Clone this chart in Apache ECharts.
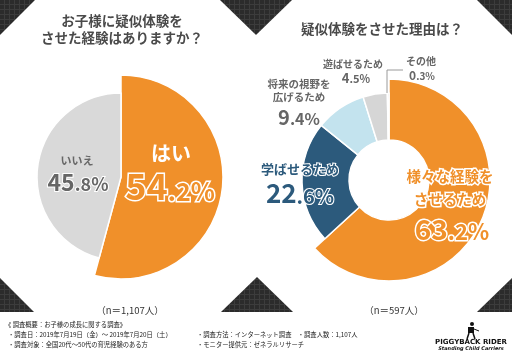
<!DOCTYPE html>
<html><head><meta charset="utf-8">
<script src="https://cdn.jsdelivr.net/npm/echarts@6/dist/echarts.min.js"></script>
<style>html,body{margin:0;padding:0;background:#fff}#c{width:512px;height:354px}</style>
</head><body><div id="c"></div>
<script>
// ---- data ----
const q1Names = ['はい', 'いいえ'];
const q1Values = [54.2, 45.8];
const q2Names = ['様々な経験をさせるため', '学ばせるため', '将来の視野を広げるため', '遊ばせるため', 'その他'];
const q2Labels = ['様々な経験を\nさせるため', '学ばせるため', '将来の視野を\n広げるため', '遊ばせるため', 'その他'];
const q2Values = [63.2, 22.6, 9.4, 4.5, 0.3];
const q1Title = 'お子様に疑似体験を\nさせた経験はありますか？';
const q2Title = '疑似体験をさせた理由は？';
const q1N = '（n＝1,107人）';
const q2N = '（n＝597人）';
const notes = [
  '《 調査概要：お子様の成長に関する調査》',
  '・調査日：2019年7月19日（金）～ 2019年7月20日（土）',
  '・調査対象：全国20代～50代の育児経験のある方',
  '・調査方法：インターネット調査　・調査人数：1,107人',
  '・モニター提供元：ゼネラルリサーチ'
];

const ORANGE = '#f0902a', GRAY = '#d9d9d9', NAVY = '#2c5a7c', LBLUE = '#c3e3ee', LGRAY = '#d6d6d6', OTHER = '#bdbdbd';
const q1Colors = [ORANGE, GRAY];
const q2Colors = [ORANGE, NAVY, LBLUE, LGRAY, OTHER];
const FONT = '"Noto Sans CJK JP", "Noto Sans", sans-serif';

// checkered pattern for corner triangles
const pc = document.createElement('canvas');
pc.width = 5; pc.height = 5;
const pctx = pc.getContext('2d');
pctx.fillStyle = '#2b2b2b'; pctx.fillRect(0, 0, 5, 5);
pctx.fillStyle = '#3c3c3c'; pctx.fillRect(4, 0, 1, 5); pctx.fillRect(0, 4, 5, 1);
const pat = { image: pc, repeat: 'repeat' };

function tri(points) {
  return { type: 'polygon', shape: { points }, style: { fill: pat }, silent: true, z: 0 };
}
function pctParts(v) {
  const s = v.toFixed(1).split('.');
  return '{i|' + s[0] + '}{d|.' + s[1] + '%}';
}
function txt(x, y, text, size, color, extra) {
  return Object.assign({
    type: 'text', x, y, z: 10,
    style: Object.assign({
      text, fontSize: size, fontFamily: FONT, fontWeight: 'bold', fill: color,
      align: 'center', verticalAlign: 'middle', lineHeight: size * 1.25
    }, extra || {})
  });
}
function pctText(x, y, v, big, small, color, stroke, lw) {
  return {
    type: 'text', x, y, z: 10,
    style: {
      text: pctParts(v), fontFamily: FONT, fontWeight: 'bold', fill: color,
      stroke: stroke, lineWidth: lw, align: 'center', verticalAlign: 'middle',
      rich: {
        i: { fontSize: big, fontFamily: FONT, fontWeight: 'bold', fill: color, stroke: stroke, lineWidth: lw, verticalAlign: 'bottom' },
        d: { fontSize: small, fontFamily: FONT, fontWeight: 'bold', fill: color, stroke: stroke, lineWidth: lw, verticalAlign: 'bottom' }
      }
    }
  };
}

const chart = echarts.init(document.getElementById('c'), null, { renderer: 'canvas' });

function pieData(names, values, colors, visibleIdx) {
  return names.map((n, i) => ({
    name: n, value: values[i],
    itemStyle: visibleIdx.includes(i)
      ? { color: colors[i], borderColor: '#fff', borderWidth: 1.5 }
      : { color: 'rgba(0,0,0,0)', borderWidth: 0 }
  }));
}

const pieCommon = { type: 'pie', startAngle: 90, clockwise: true, label: { show: false }, labelLine: { show: false }, silent: true, animation: false };

const graphics = [
  tri([[0, 0], [35, 0], [0, 35]]),
  tri([[220, 0], [292, 0], [256, 35]]),
  tri([[477, 0], [512, 0], [512, 35]]),
  tri([[0, 278], [0, 312], [34, 312]]),
  tri([[221, 312], [293, 312], [257, 277]]),
  tri([[512, 278], [512, 312], [477, 312]]),
  // titles
  txt(122, 29, q1Title, 13.5, '#4a4a4a', { lineHeight: 17 }),
  txt(382, 29, q2Title, 13.5, '#4a4a4a'),
  // left labels
  txt(171, 153, q1Names[0], 20, '#fff'),
  pctText(170, 186, q1Values[0], 36, 25, ORANGE, '#fff', 3),
  txt(77, 161, q1Names[1], 11, '#666'),
  pctText(78, 182, q1Values[1], 23, 18, '#666', '#fff', 2),
  // right labels
  txt(450, 188, q2Labels[0], 14.5, ORANGE, { stroke: '#fff', lineWidth: 3, lineHeight: 23 }),
  pctText(452, 229, q2Values[0], 28, 22, ORANGE, '#fff', 3),
  txt(300, 169, q2Labels[1], 13, NAVY, { stroke: '#fff', lineWidth: 2 }),
  pctText(300, 193, q2Values[1], 26, 20, NAVY, '#fff', 2),
  txt(299, 91, q2Labels[2], 10.5, '#666', { lineHeight: 13 }),
  pctText(299, 117, q2Values[2], 20, 16, '#666', '#fff', 1),
  txt(353, 64, q2Labels[3], 10, '#666'),
  pctText(356, 78, q2Values[3], 13, 11, '#666', '#fff', 0),
  txt(421, 61, q2Labels[4], 10, '#666'),
  pctText(422, 75, q2Values[4], 12, 10, '#666', '#fff', 0),
  { type: 'polyline', shape: { points: [[387, 93], [387, 70], [403, 70]] }, style: { stroke: '#9a9a9a', lineWidth: 1, fill: null }, z: 10 },
  // n labels
  txt(130, 310, q1N, 9.5, '#333', { fontWeight: 'normal' }),
  txt(394, 310, q2N, 9.5, '#333', { fontWeight: 'normal' }),
  // notes
  txt(5, 325, notes[0], 6.3, '#222', { align: 'left', fontWeight: 'normal' }),
  txt(8, 335, notes[1], 6.3, '#222', { align: 'left', fontWeight: 'normal' }),
  txt(8, 345, notes[2], 6.3, '#222', { align: 'left', fontWeight: 'normal' }),
  txt(197, 335, notes[3], 6.3, '#222', { align: 'left', fontWeight: 'normal' }),
  txt(197, 345, notes[4], 6.3, '#222', { align: 'left', fontWeight: 'normal' }),
  // logo
  { type: 'circle', shape: { cx: 472, cy: 324, r: 2 }, style: { fill: '#111' }, z: 10 },
  { type: 'rect', shape: { x: 468, y: 327, width: 6, height: 6 }, style: { fill: '#111' }, z: 10 },
  { type: 'polyline', shape: { points: [[469, 333], [467, 339]] }, style: { stroke: '#111', lineWidth: 1.5 }, z: 10 },
  { type: 'polyline', shape: { points: [[473, 333], [475, 339]] }, style: { stroke: '#111', lineWidth: 1.5 }, z: 10 },
  { type: 'polyline', shape: { points: [[474, 329], [479, 331]] }, style: { stroke: '#111', lineWidth: 1 }, z: 10 },
  txt(471, 342, 'PIGGYBACK RIDER', 7, '#111', { fontFamily: 'DejaVu Sans, sans-serif', fontWeight: 'bold' }),
  txt(471, 349, 'Standing Child Carriers', 5, '#111', { fontFamily: 'DejaVu Sans, sans-serif', fontStyle: 'italic', fontWeight: 'bold' })
];

chart.setOption({
  animation: false,
  graphic: graphics,
  series: [
    Object.assign({}, pieCommon, { center: [121, 177], radius: [0, 102], data: pieData(q1Names, q1Values, q1Colors, [0]) }),
    Object.assign({}, pieCommon, { center: [121, 177], radius: [0, 84], data: pieData(q1Names, q1Values, q1Colors, [1]) }),
    Object.assign({}, pieCommon, { center: [389, 180], radius: [40, 101], data: pieData(q2Names, q2Values, q2Colors, [0]) }),
    Object.assign({}, pieCommon, { center: [389, 180], radius: [40, 87], data: pieData(q2Names, q2Values, q2Colors, [1, 2, 3, 4]) })
  ]
});
</script></body></html>
